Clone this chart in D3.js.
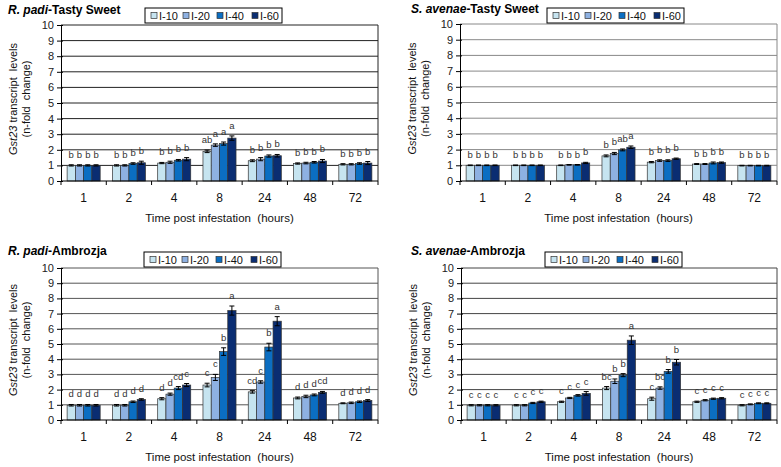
<!DOCTYPE html>
<html><head><meta charset="utf-8">
<script src="https://cdn.jsdelivr.net/npm/d3@7"></script>
<style>body{margin:0;background:#fff;font-family:"Liberation Sans",Arial,sans-serif}</style>
</head><body><svg id="c" width="781" height="467"></svg>
<script>
const categories = ["1","2","4","8","24","48","72"];
const seriesNames = ["I-10","I-20","I-40","I-60"];
const yTicks = [0,1,2,3,4,5,6,7,8,9,10];
const colors = ["#c6e4f0","#8eb1e2","#0b6ec2","#0a2d72"];

// R. padi - Tasty Sweet
const rpTastyValues = [[1.0,1.0,1.0,1.0],[1.0,1.0,1.12,1.17],[1.15,1.2,1.33,1.4],[1.9,2.3,2.4,2.75],[1.3,1.4,1.6,1.62],[1.12,1.15,1.2,1.28],[1.07,1.07,1.12,1.15]];
const rpTastyErrors = [[0.04,0.04,0.04,0.04],[0.04,0.04,0.05,0.1],[0.04,0.07,0.05,0.1],[0.08,0.08,0.1,0.14],[0.06,0.1,0.07,0.08],[0.04,0.05,0.05,0.1],[0.04,0.04,0.05,0.1]];
const rpTastyLetters = [["b","b","b","b"],["b","b","b","b"],["b","b","b","b"],["ab","a","a","a"],["b","b","b","b"],["b","b","b","b"],["b","b","b","b"]];

// S. avenae - Tasty Sweet
const saTastyValues = [[1.0,1.0,1.0,1.0],[1.0,1.0,1.0,1.0],[1.0,1.03,1.03,1.15],[1.6,1.75,1.98,2.15],[1.2,1.3,1.3,1.42],[1.08,1.08,1.15,1.17],[0.98,0.98,0.98,0.98]];
const saTastyErrors = [[0.02,0.02,0.02,0.02],[0.02,0.02,0.02,0.02],[0.02,0.02,0.02,0.04],[0.06,0.07,0.06,0.08],[0.04,0.05,0.05,0.04],[0.03,0.03,0.06,0.04],[0.02,0.02,0.02,0.02]];
const saTastyLetters = [["b","b","b","b"],["b","b","b","b"],["b","b","b","b"],["b","b","ab","a"],["b","b","b","b"],["b","b","b","b"],["b","b","b","b"]];

// R. padi - Ambrozja
const rpAmbrValues = [[0.97,0.97,0.97,0.97],[0.97,0.97,1.2,1.35],[1.4,1.7,2.1,2.3],[2.3,2.8,4.5,7.2],[1.85,2.5,4.8,6.5],[1.45,1.55,1.65,1.82],[1.1,1.13,1.2,1.28]];
const rpAmbrErrors = [[0.05,0.05,0.05,0.05],[0.05,0.05,0.05,0.05],[0.07,0.07,0.1,0.1],[0.12,0.2,0.25,0.3],[0.08,0.08,0.25,0.3],[0.06,0.08,0.06,0.06],[0.03,0.05,0.05,0.06]];
const rpAmbrLetters = [["d","d","d","d"],["d","d","d","d"],["d","d","cd","c"],["c","c","b","a"],["cd","c","b","a"],["d","d","d","cd"],["d","d","d","d"]];

// S. avenae - Ambrozja
const saAmbrValues = [[0.97,0.97,0.97,0.97],[0.97,0.97,1.12,1.2],[1.2,1.45,1.62,1.75],[2.1,2.55,2.95,5.25],[1.4,2.1,3.2,3.8],[1.2,1.3,1.4,1.43],[0.97,1.03,1.1,1.1]];
const saAmbrErrors = [[0.04,0.04,0.04,0.04],[0.04,0.04,0.04,0.04],[0.04,0.04,0.05,0.12],[0.1,0.15,0.1,0.28],[0.1,0.08,0.12,0.18],[0.04,0.04,0.04,0.04],[0.04,0.03,0.03,0.03]];
const saAmbrLetters = [["c","c","c","c"],["c","c","c","c"],["c","c","c","c"],["bc","b","b","a"],["c","bc","b","b"],["c","c","c","c"],["c","c","c","c"]];

const panels = [
  {sp:"R. padi", host:"Tasty Sweet", v:rpTastyValues, e:rpTastyErrors, l:rpTastyLetters,
   x0:61, x1:378, y0:25, y1:181, tx:8, ty:14, lx:145, ly:8, grid:"#222"},
  {sp:"S. avenae", host:"Tasty Sweet", v:saTastyValues, e:saTastyErrors, l:saTastyLetters,
   x0:460, x1:777, y0:24, y1:181, tx:411, ty:13, lx:547, ly:8, grid:"#888"},
  {sp:"R. padi", host:"Ambrozja", v:rpAmbrValues, e:rpAmbrErrors, l:rpAmbrLetters,
   x0:61, x1:378, y0:268, y1:420, tx:8, ty:255, lx:144, ly:252, grid:"#555"},
  {sp:"S. avenae", host:"Ambrozja", v:saAmbrValues, e:saAmbrErrors, l:saAmbrLetters,
   x0:461, x1:777, y0:268, y1:420, tx:411, ty:255, lx:545, ly:252, grid:"#444"}
];

const svg = d3.select("#c");

panels.forEach(p => {
  const g = svg.append("g");
  const x = d3.scaleBand().domain(categories).range([p.x0, p.x1]).paddingInner(0.27).paddingOuter(0.135);
  const xb = d3.scaleBand().domain(categories).range([p.x0, p.x1]);
  const xs = d3.scaleBand().domain(seriesNames).range([0, x.bandwidth()]);
  const y = d3.scaleLinear().domain([0,10]).range([p.y1, p.y0]);

  g.selectAll(".grid").data(yTicks.filter(t=>t>0)).enter().append("line")
    .attr("x1",p.x0).attr("x2",p.x1).attr("y1",d=>y(d)).attr("y2",d=>y(d))
    .attr("stroke",p.grid).attr("stroke-width",1);
  g.append("line").attr("x1",p.x1).attr("x2",p.x1).attr("y1",p.y0).attr("y2",p.y1).attr("stroke",p.grid);

  p.v.forEach((row,i) => {
    const c = categories[i];
    row.forEach((val,j) => {
      const bx = x(c) + xs(seriesNames[j]);
      const bw = xs.bandwidth();
      g.append("rect").attr("x",bx).attr("y",y(val)).attr("width",bw).attr("height",y(0)-y(val))
        .attr("fill",colors[j]).attr("stroke","#333").attr("stroke-width",0.7);
      const err = p.e[i][j];
      const cx = bx + bw/2;
      g.append("line").attr("x1",cx).attr("x2",cx).attr("y1",y(val-err)).attr("y2",y(val+err)).attr("stroke","#000").attr("stroke-width",1);
      [val-err, val+err].forEach(t => g.append("line").attr("x1",cx-2.5).attr("x2",cx+2.5).attr("y1",y(t)).attr("y2",y(t)).attr("stroke","#000").attr("stroke-width",1));
      g.append("text").attr("x",cx).attr("y",y(val+err)-7).attr("text-anchor","middle")
        .attr("font-size",9.5).attr("fill","#333").text(p.l[i][j]);
    });
  });

  const ya = d3.axisLeft(y).tickValues(yTicks).tickSize(4).tickFormat(d3.format("d"));
  const yg = g.append("g").attr("transform",`translate(${p.x0},0)`).call(ya);
  yg.select(".domain").attr("stroke","#000");
  yg.selectAll(".tick line").attr("stroke","#000").attr("x2",-4).attr("x1",2);
  yg.selectAll("text").attr("font-size",11).attr("font-family","Liberation Sans, Arial").attr("fill","#222").attr("x",-7);

  g.append("line").attr("x1",p.x0).attr("x2",p.x1).attr("y1",p.y1).attr("y2",p.y1).attr("stroke","#000");
  const bounds = categories.map(c=>xb(c)).concat([p.x1]);
  g.selectAll(".xt").data(bounds).enter().append("line")
    .attr("x1",d=>d).attr("x2",d=>d).attr("y1",p.y1).attr("y2",p.y1+4).attr("stroke","#000");
  g.selectAll(".xl").data(categories).enter().append("text")
    .attr("x",d=>xb(d)+xb.bandwidth()/2).attr("y",p.y1+21).attr("text-anchor","middle")
    .attr("font-size",12).attr("fill","#111").text(d=>d);
  g.append("text").attr("x",(p.x0+p.x1)/2).attr("y",p.y1+41).attr("text-anchor","middle")
    .attr("font-size",11.5).attr("fill","#111").attr("xml:space","preserve").text("Time post infestation  (hours)");

  const cy = (p.y0+p.y1)/2 - 4;
  const yl = g.append("text").attr("transform",`translate(${p.x0-44},${cy}) rotate(-90)`)
    .attr("text-anchor","middle").attr("font-size",11).attr("fill","#111");
  yl.append("tspan").attr("font-style","italic").text("Gst23");
  yl.append("tspan").attr("xml:space","preserve").text(" transcript  levels");
  g.append("text").attr("transform",`translate(${p.x0-31},${cy}) rotate(-90)`)
    .attr("text-anchor","middle").attr("font-size",11).attr("fill","#111").attr("xml:space","preserve").text("(n-fold  change)");

  const t = g.append("text").attr("x",p.tx).attr("y",p.ty).attr("font-size",12).attr("font-weight","bold").attr("fill","#000");
  t.append("tspan").attr("font-style","italic").text(p.sp);
  t.append("tspan").text("-" + p.host);

  const lg = g.append("g").attr("transform",`translate(${p.lx},${p.ly})`);
  lg.append("rect").attr("x",0).attr("y",0).attr("width",137).attr("height",15).attr("fill","#fff").attr("stroke","#000");
  const offs = [6, 38, 72, 107];
  seriesNames.forEach((s,j)=>{
    lg.append("rect").attr("x",offs[j]).attr("y",4.5).attr("width",6).attr("height",6).attr("fill",colors[j]).attr("stroke","#333").attr("stroke-width",0.7);
    lg.append("text").attr("x",offs[j]+8).attr("y",11.5).attr("font-size",11).attr("fill","#111").text(s);
  });
});
</script></body></html>
